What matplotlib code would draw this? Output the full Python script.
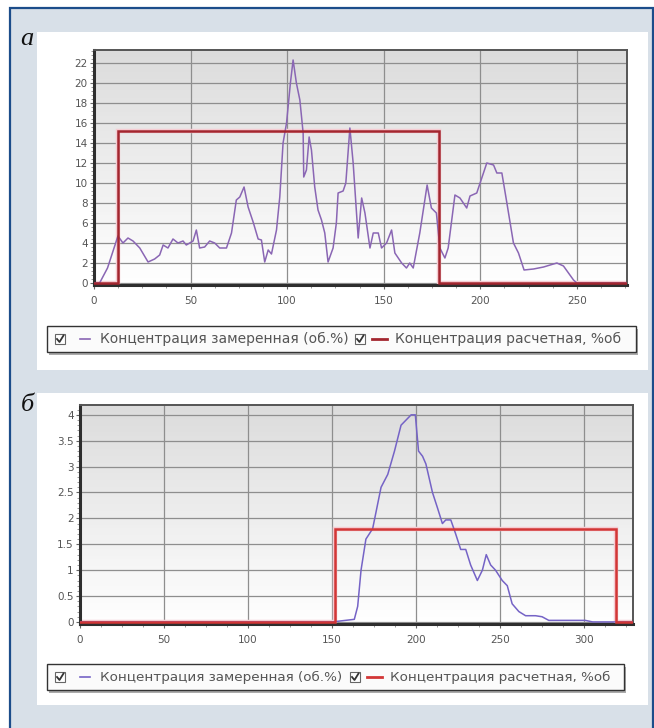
import numpy as np
import matplotlib.pyplot as plt
from matplotlib.patches import Rectangle
from matplotlib.ticker import MultipleLocator, FuncFormatter

W, H = 654, 728

# chart a: measured concentration (об.%)
meas_a_x = [0, 2.9, 7, 12.4, 15.0, 17.6, 20.2, 23.7, 28.0, 31.4, 34.0, 35.8, 38.3,
            40.9, 43.5, 46.1, 47.8, 51.3, 53.0, 54.7, 57.3, 59.9, 62.5, 65.1, 68.6,
            71.2, 73.7, 75.5, 77.7, 79.8, 82.4, 85.0, 86.7, 88.4, 90.2, 91.9, 94.5,
            96.2, 97.9, 99.7, 101.7, 103.1, 104.8, 106.6, 108.3, 108.6, 110.0, 111.4,
            112.6, 114.3, 116.0, 117.8, 119.5, 121.2, 123.8, 125.5, 126.4, 129.0,
            130.4, 132.5, 134.2, 136.8, 138.6, 140.3, 142.9, 144.6, 147.2, 148.9,
            151.5, 154.1, 155.8, 159.3, 161.8, 163.5, 165.3, 168.7, 172.5, 174.7,
            177.3, 179.1, 181.7, 183.4, 186.9, 189.5, 193.0, 194.7, 198.2, 200.8,
            203.4, 206.9, 208.6, 211.2, 213.8, 217.2, 219.8, 222.7, 227.6, 232.8,
            236.2, 239.7, 243.1, 245.7, 248.3, 250.0, 260, 276]
meas_a_y = [0, 0, 1.5, 4.7, 4.0, 4.5, 4.2, 3.5, 2.1, 2.4, 2.8, 3.8, 3.5,
            4.4, 4.0, 4.2, 3.8, 4.2, 5.3, 3.5, 3.6, 4.2, 4.0, 3.5, 3.5,
            5.0, 8.3, 8.6, 9.6, 7.6, 6.1, 4.4, 4.3, 2.1, 3.3, 2.9, 5.3,
            8.6, 14.0, 16.0, 20.0, 22.3, 20.0, 18.3, 15.0, 10.6, 11.3, 14.6,
            13.3, 9.6, 7.3, 6.3, 5.0, 2.1, 3.5, 6.0, 9.0, 9.2,
            10.0, 15.5, 12.0, 4.5, 8.5, 7.0, 3.5, 5.0, 5.0, 3.5,
            4.0, 5.3, 3.0, 2.0, 1.5, 2.0, 1.5, 5.0, 9.8, 7.5,
            7.0, 3.5, 2.5, 3.5, 8.8, 8.5, 7.5, 8.7, 9.0, 10.5,
            12.0, 11.8, 11.0, 11.0, 8.0, 4.0, 3.0, 1.3, 1.4, 1.6,
            1.8, 2.0, 1.7, 1.0, 0.3, 0.0, 0, 0]
# chart a: calculated concentration, %об (step)
calc_a_start, calc_a_end, calc_a_level = 12.4, 178.8, 15.2
xlim_a = (0, 276)

# chart б: measured concentration (об.%)
meas_b_x = [0, 150, 163.2, 165.2, 167.2, 170.1, 174.1, 179.1, 183.1, 187.1, 191.0,
            194.0, 197.0, 199.5, 201.4, 203.8, 205.8, 209.7, 212.7, 215.6, 217.6,
            220.6, 223.5, 226.5, 229.5, 232.4, 236.4, 239.4, 241.7, 244.3, 247.2,
            251.2, 254.2, 257.1, 261.1, 265.1, 271.0, 274.9, 278.9, 300.6, 305, 329]
meas_b_y = [0, 0, 0.05, 0.3, 1.0, 1.6, 1.8, 2.6, 2.85, 3.3, 3.8,
            3.9, 4.0, 4.0, 3.3, 3.2, 3.05, 2.5, 2.2, 1.9, 1.97,
            1.97, 1.7, 1.4, 1.4, 1.1, 0.8, 1.0, 1.3, 1.1, 1.0,
            0.8, 0.7, 0.35, 0.2, 0.12, 0.12, 0.1, 0.03, 0.03, 0, 0]
# chart б: calculated concentration, %об (step)
calc_b_start, calc_b_end, calc_b_level = 151.9, 319.1, 1.8
xlim_b = (0, 329)

legend_labels = ['Концентрация замеренная (об.%)', 'Концентрация расчетная, %об']
panel_labels = ['а', 'б']

fig = plt.figure(figsize=(W / 100, H / 100), dpi=100)

# pixel-space background layer
bg = fig.add_axes([0, 0, 1, 1], zorder=-5)
bg.axis('off')


def vgrad(c_top, c_bot, n=64):
    t = np.linspace(0, 1, n)[:, None, None]
    a = np.array(c_top)[None, None, :]
    b = np.array(c_bot)[None, None, :]
    return a + (b - a) * t


def hexrgb(h):
    h = h.lstrip('#')
    return [int(h[i:i + 2], 16) / 255 for i in (0, 2, 4)]


bg.add_patch(Rectangle((0, 0), W, H, fc='white', ec='none'))
bg.add_patch(Rectangle((10, 8), 643, 740, fc='#d8e0e8', ec='#1c4d8a', lw=1.6))

# white panels and light-grey chart areas
for (py0, py1) in [(32, 370), (393, 705)]:
    bg.add_patch(Rectangle((37, py0), 611, py1 - py0, fc='white', ec='none'))
    bg.imshow(vgrad(hexrgb('#e6e6e6'), hexrgb('#f7f7f7')),
              extent=(43, 643, py1 - 8, py0 + 7), origin='upper', aspect='auto')

bg.set_xlim(0, W)
bg.set_ylim(H, 0)


def px_axes(x0, y0, x1, y1):
    return fig.add_axes([x0 / W, 1 - y1 / H, (x1 - x0) / W, (y1 - y0) / H])


def fmt_num(v, pos):
    return ('%g' % v)


def setup_chart(ax, xlim, ylim, ymajor, yminor):
    ax.set_facecolor('none')
    ax.imshow(vgrad(hexrgb('#dcdcdc'), hexrgb('#ffffff')), extent=(0, 1, 0, 1),
              transform=ax.transAxes, origin='upper', aspect='auto', zorder=0)
    ax.set_xlim(*xlim)
    ax.set_ylim(*ylim)
    ax.xaxis.set_major_locator(MultipleLocator(50))
    ax.xaxis.set_minor_locator(MultipleLocator(12.5))
    ax.yaxis.set_major_locator(MultipleLocator(ymajor))
    ax.yaxis.set_minor_locator(MultipleLocator(yminor))
    ax.yaxis.set_major_formatter(FuncFormatter(fmt_num))
    ax.grid(True, which='major', color='#8e8e8e', lw=0.9)
    ax.set_axisbelow(True)
    ax.tick_params(which='major', length=3, width=0.8, color='#666',
                   labelsize=7.5, labelcolor='#555')
    ax.tick_params(axis='y', which='major', pad=1.5)
    ax.tick_params(axis='x', which='major', pad=5)
    ax.tick_params(which='minor', length=2, width=0.6, color='#888')
    for s in ('top', 'right'):
        ax.spines[s].set_color('#555')
        ax.spines[s].set_linewidth(1.4)
    for s in ('left', 'bottom'):
        ax.spines[s].set_color('#2e2e2e')
        ax.spines[s].set_linewidth(2.2)


def draw_series(ax, mx, my, start, end, level, xlim, c_meas, c_calc):
    sx = [xlim[0], start, start, end, end, xlim[1]]
    sy = [0, 0, level, level, 0, 0]
    ax.plot(mx, my, color=c_meas, lw=1.1, zorder=3)
    ax.plot(sx, sy, color='#f5ccd2', lw=3.2, solid_joinstyle='miter', zorder=2)
    ax.plot(sx, sy, color=c_calc, lw=1.8, solid_joinstyle='miter', zorder=4)


ax_a = px_axes(94, 50, 627, 285)
setup_chart(ax_a, xlim_a, (-0.2, 23.3), 2, 0.4)
draw_series(ax_a, meas_a_x, meas_a_y, calc_a_start, calc_a_end, calc_a_level,
            xlim_a, '#8a66b4', '#a3262f')

ax_b = px_axes(80, 405, 633, 624)
setup_chart(ax_b, xlim_b, (-0.04, 4.19), 0.5, 0.1)
draw_series(ax_b, meas_b_x, meas_b_y, calc_b_start, calc_b_end, calc_b_level,
            xlim_b, '#7563c6', '#d23636')


def checkbox(x, yc):
    bg.add_patch(Rectangle((x, yc - 5), 10, 10, fc='white', ec='#666', lw=0.8))
    bg.plot([x + 2, x + 4.5, x + 8.5], [yc, yc + 3, yc - 3.5], color='#333', lw=1.3)


def draw_legend(x0, x1, y0, y1, c_meas, c_calc, fs, x2):
    yc = (y0 + y1) / 2
    bg.add_patch(Rectangle((x0 + 2, y0 + 3), x1 - x0, y1 - y0, fc='#666',
                           ec='none', alpha=0.55))
    bg.add_patch(Rectangle((x0, y0), x1 - x0, y1 - y0, fc='#fbfbfb', ec='#333', lw=1))
    checkbox(x0 + 8, yc)
    bg.plot([x0 + 33, x0 + 43], [yc, yc], color=c_meas, lw=1.2)
    bg.text(x0 + 53, yc, legend_labels[0], fontsize=fs, color='#555',
            ha='left', va='center')
    checkbox(x2, yc)
    bg.plot([x2 + 17, x2 + 32], [yc, yc], color=c_calc, lw=2)
    bg.text(x2 + 40, yc, legend_labels[1], fontsize=fs, color='#555',
            ha='left', va='center')


draw_legend(47, 636, 326, 352, '#8a66b4', '#a3262f', 10, 355)
draw_legend(47, 624, 664, 690, '#7563c6', '#d23636', 9.7, 350)

for lab, yc in zip(panel_labels, [39, 405]):
    bg.text(27, yc, lab, family='Liberation Serif', style='italic', fontsize=19,
            ha='center', va='center', color='#111')

bg.set_xlim(0, W)
bg.set_ylim(H, 0)

fig.savefig('out.png', dpi=100)
